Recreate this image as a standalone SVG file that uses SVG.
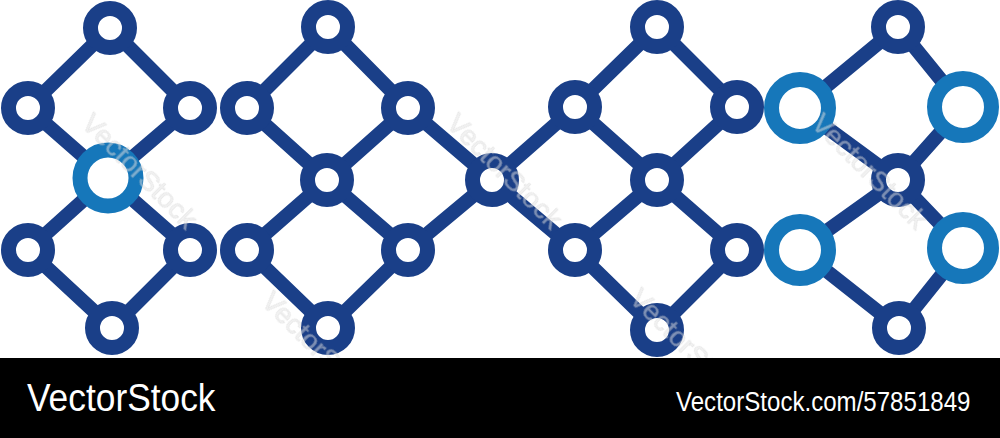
<svg xmlns="http://www.w3.org/2000/svg" width="1000" height="438" viewBox="0 0 1000 438">
<style>
.e{stroke:#1a3f88;stroke-width:14;stroke-linecap:butt;fill:none}
.d{fill:#fff;stroke:#1a3f88;stroke-width:15}
.l{fill:#fff;stroke:#1677ba;stroke-width:15}
.wm{font-family:"Liberation Sans",Arial,sans-serif;font-size:28px;fill:#e6e6e6;stroke:#c4c4c4;stroke-width:0.6;opacity:0.5}
.bar{font-family:"Liberation Sans",Arial,sans-serif;fill:#fff}
</style>
<rect width="1000" height="438" fill="#fff"/>
<g id="connectors" class="e">
<path d="M110 28L28 108M110 28L190 108M28 108L108 178M190 108L108 178M108 178L28 250M108 178L190 250M28 250L112 328M190 250L112 328"/>
<path d="M328 27L247 108M328 27L408 108M247 108L327 180M408 108L327 180M327 180L247 250M327 180L408 250M247 250L328 328M408 250L328 328M408 108L492 180M408 250L492 180"/>
<path d="M492 180L575 107M492 180L575 250M657 27L575 107M657 27L737 107M575 107L657 180M737 107L657 180M657 180L575 250M657 180L737 250M575 250L657 330M737 250L657 330"/>
<path d="M898 27L800 108M898 27L963 107M800 108L898 180M963 107L898 180M898 180L800 250M898 180L963 248M800 250L899 328M963 248L899 328"/>
</g>
<g id="g1">
<circle class="d" cx="110" cy="28" r="19.5"/>
<circle class="d" cx="28" cy="108" r="19.5"/>
<circle class="d" cx="190" cy="108" r="19.5"/>
<circle class="l" cx="108" cy="178" r="28"/>
<circle class="d" cx="28" cy="250" r="19.5"/>
<circle class="d" cx="190" cy="250" r="19.5"/>
<circle class="d" cx="112" cy="328" r="19.5"/>
</g>
<g id="g2">
<circle class="d" cx="328" cy="27" r="19.5"/>
<circle class="d" cx="247" cy="108" r="19.5"/>
<circle class="d" cx="408" cy="108" r="19.5"/>
<circle class="d" cx="327" cy="180" r="19.5"/>
<circle class="d" cx="247" cy="250" r="19.5"/>
<circle class="d" cx="408" cy="250" r="19.5"/>
<circle class="d" cx="328" cy="328" r="19.5"/>
</g>
<g id="hub">
<circle class="d" cx="492" cy="180" r="19.5"/>
</g>
<g id="g3">
<circle class="d" cx="657" cy="27" r="19.5"/>
<circle class="d" cx="575" cy="107" r="19.5"/>
<circle class="d" cx="737" cy="107" r="19.5"/>
<circle class="d" cx="657" cy="180" r="19.5"/>
<circle class="d" cx="575" cy="250" r="19.5"/>
<circle class="d" cx="737" cy="250" r="19.5"/>
<circle class="d" cx="657" cy="330" r="19.5"/>
</g>
<g id="g4">
<circle class="d" cx="898" cy="27" r="19.5"/>
<circle class="l" cx="800" cy="108" r="28.5"/>
<circle class="l" cx="963" cy="107" r="28.5"/>
<circle class="d" cx="898" cy="180" r="19.5"/>
<circle class="l" cx="800" cy="250" r="28.5"/>
<circle class="l" cx="963" cy="248" r="28.5"/>
<circle class="d" cx="899" cy="328" r="19.5"/>
</g>
<g id="watermark" class="wm">
<text transform="translate(80 125) rotate(45)">VectorStock</text>
<text transform="translate(445 125) rotate(45)">VectorStock</text>
<text transform="translate(810 125) rotate(45)">VectorStock</text>
<text transform="translate(260 303) rotate(45)">VectorStock</text>
<text transform="translate(628 300) rotate(45)">VectorStock</text>
</g>
<g id="footer">
<rect x="0" y="358" width="1000" height="80" fill="#000"/>
<text class="bar" transform="translate(27 411) scale(0.93 1)" font-size="38">VectorStock</text>
<text class="bar" transform="translate(676 411) scale(0.86 1)" font-size="28">VectorStock.com/57851849</text>
</g>
</svg>
